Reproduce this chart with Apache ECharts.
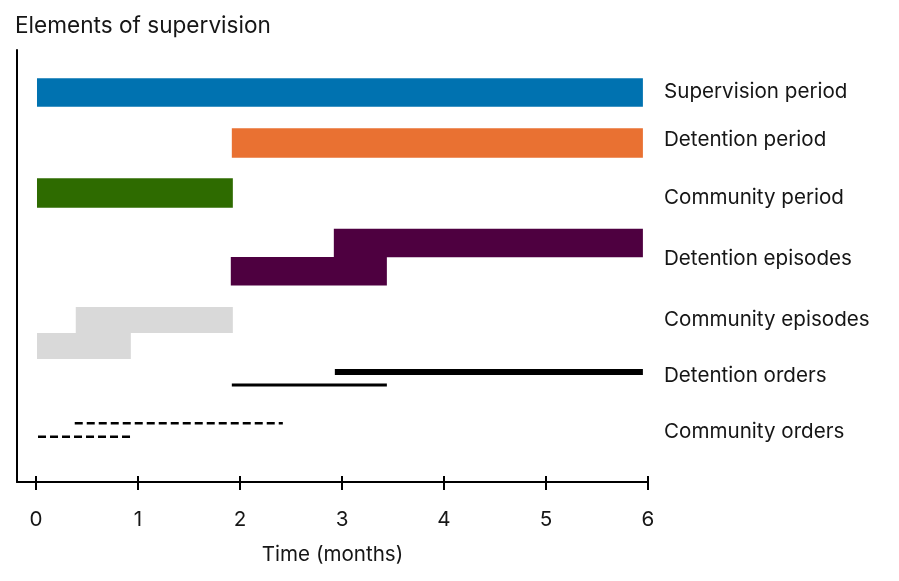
<!DOCTYPE html>
<html>
<head>
<meta charset="utf-8">
<script src="https://cdn.jsdelivr.net/npm/echarts@6/dist/echarts.min.js"></script>
<style>
  html, body { margin: 0; padding: 0; background: #fff; }
  #main { width: 899px; height: 581px; }
</style>
</head>
<body>
<div id="main"></div>
<script>
// values, in months
const rowNames = [
  "Supervision period",
  "Detention period",
  "Community period",
  "Detention episodes",
  "Community episodes",
  "Detention orders",
  "Community orders",
];
const supervisionPeriod = [[0.01, 5.95]];
const detentionPeriod = [[1.92, 5.95]];
const communityPeriod = [[0.01, 1.93]];
const detentionEpisodes = [[2.92, 5.95], [1.91, 3.44]];
const communityEpisodes = [[0.39, 1.93], [0.01, 0.93]];
const detentionOrders = [[2.93, 5.95], [1.92, 3.44]];
const communityOrders = [[0.38, 2.42], [0.02, 0.94]];
const xTicks = [0, 1, 2, 3, 4, 5, 6];

const FONT = "Inter";
const TEXT = "#161616";
const FS = 20.6;

// lanes on the (hidden) vertical scale, one per sub-row
const rows = [
  { data: supervisionPeriod, kind: "bar", lanes: [42.5], h: 28.5, color: "#0072B0" },
  { data: detentionPeriod, kind: "bar", lanes: [93], h: 29.5, color: "#E97132" },
  { data: communityPeriod, kind: "bar", lanes: [143], h: 29.7, color: "#2E6B00" },
  { data: detentionEpisodes, kind: "bar", lanes: [193, 221.3], h: 28.5, color: "#4E0040" },
  { data: communityEpisodes, kind: "bar", lanes: [270, 296], h: 26, color: "#D9D9D9" },
  { data: detentionOrders, kind: "line", lanes: [322, 335], widths: [6, 3], color: "#000" },
  { data: communityOrders, kind: "line", lanes: [373.3, 386.7], widths: [2.5, 2.5], dash: [8, 4], color: "#000" },
];
const labelLanes = [42, 90, 147.3, 209, 270.2, 325.5, 382];

const series = rows.map((row) => ({
  type: "custom",
  xAxisIndex: 0,
  yAxisIndex: 0,
  silent: true,
  data: row.data.map((d, i) => [d[0], d[1], i]),
  renderItem: (params, api) => {
    const i = api.value(2);
    const lane = row.lanes[i];
    if (row.kind === "bar") {
      const p0 = api.coord([api.value(0), lane - row.h / 2]);
      const p1 = api.coord([api.value(1), lane + row.h / 2]);
      return {
        type: "rect",
        shape: { x: p0[0], y: p0[1], width: p1[0] - p0[0], height: p1[1] - p0[1] },
        style: { fill: row.color },
      };
    }
    const a = api.coord([api.value(0), lane]);
    const b = api.coord([api.value(1), lane]);
    return {
      type: "line",
      shape: { x1: a[0], y1: a[1], x2: b[0], y2: b[1] },
      style: {
        stroke: row.color,
        lineWidth: row.widths[i],
        lineDash: row.dash || null,
        lineCap: "butt",
      },
    };
  },
}));

const chart = echarts.init(document.getElementById("main"));
const option = {
  animation: false,
  textStyle: { fontFamily: FONT },
  title: {
    text: "Elements of supervision",
    left: 10,
    top: 10,
    textStyle: { fontFamily: FONT, fontSize: 22.6, fontWeight: "normal", color: TEXT },
  },
  grid: { left: 17, right: 251, top: 50, bottom: 99, containLabel: false },
  xAxis: [
    {
      type: "value",
      min: -0.186,
      max: 6,
      name: "Time (months)",
      nameLocation: "middle",
      nameGap: 62,
      nameTextStyle: { fontFamily: FONT, fontSize: FS, color: TEXT },
      splitLine: { show: false },
      axisLine: { onZero: false, lineStyle: { color: "#000", width: 2 } },
      axisTick: { customValues: xTicks, length: 8, lineStyle: { color: "#000", width: 2 } },
      axisLabel: {
        customValues: xTicks,
        margin: 27,
        fontFamily: FONT,
        fontSize: FS,
        color: TEXT,
      },
    },
    {
      type: "value",
      min: -0.186,
      max: 6,
      position: "bottom",
      splitLine: { show: false },
      axisLine: { show: false, onZero: false },
      axisTick: { customValues: xTicks, inside: true, length: 6, lineStyle: { color: "#000", width: 2 } },
      axisLabel: { show: false },
    },
  ],
  yAxis: [
    {
      type: "value",
      inverse: true,
      min: 0,
      max: 432,
      splitLine: { show: false },
      axisLine: { show: true, onZero: false, lineStyle: { color: "#000", width: 2 } },
      axisTick: { show: false },
      axisLabel: { show: false },
    },
    {
      type: "value",
      inverse: true,
      min: 0,
      max: 432,
      position: "right",
      splitLine: { show: false },
      axisLine: { show: false, onZero: false },
      axisTick: { show: false },
      axisLabel: {
        customValues: labelLanes,
        margin: 16,
        fontFamily: FONT,
        fontSize: FS,
        color: TEXT,
        formatter: (v) => rowNames[labelLanes.indexOf(v)] || "",
      },
    },
  ],
  series: series,
};
chart.setOption(option);
</script>
</body>
</html>
